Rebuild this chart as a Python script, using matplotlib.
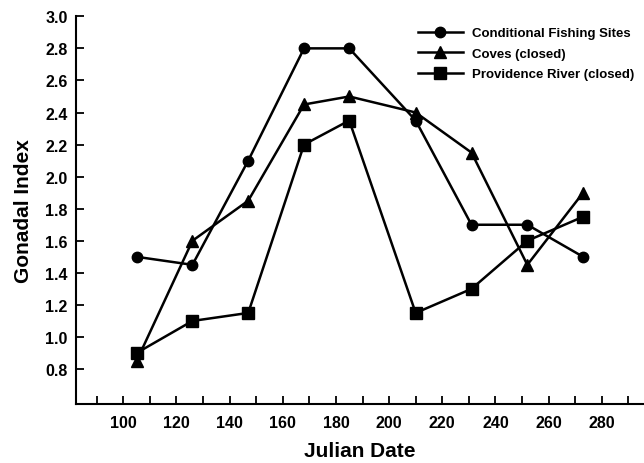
import matplotlib
matplotlib.use("Agg")
import matplotlib.pyplot as plt

plt.rcParams["font.family"] = ["Liberation Sans", "DejaVu Sans"]
plt.rcParams["font.weight"] = "bold"

# данные
julian_date = [105, 126, 147, 168, 185, 210, 231, 252, 273]
conditional_sites = [1.50, 1.45, 2.10, 2.80, 2.80, 2.35, 1.70, 1.70, 1.50]
coves_closed = [0.85, 1.60, 1.85, 2.45, 2.50, 2.40, 2.15, 1.45, 1.90]
providence_closed = [0.90, 1.10, 1.15, 2.20, 2.35, 1.15, 1.30, 1.60, 1.75]

series_labels = ["Conditional Fishing Sites", "Coves (closed)", "Providence River (closed)"]
x_ticks = list(range(90, 300, 10))
x_tick_labels = [str(v) if v % 20 == 0 and 100 <= v <= 280 else "" for v in x_ticks]
y_ticks = [0.8, 1.0, 1.2, 1.4, 1.6, 1.8, 2.0, 2.2, 2.4, 2.6, 2.8, 3.0]

fig = plt.figure(figsize=(6.44, 4.64), dpi=100)
ax = fig.add_axes([76 / 644, 1 - 405 / 464, 1 - 76 / 644, (405 - 17.3) / 464])

styles = [("o", 7.5), ("^", 8.2), ("s", 8)]
for values, label, (marker, ms) in zip(
        [conditional_sites, coves_closed, providence_closed], series_labels, styles):
    ax.plot(julian_date, values, color="black", linewidth=1.8,
            marker=marker, markersize=ms, label=label, clip_on=False)

ax.set_xlim(82.2, 295.9)
ax.set_ylim(0.582, 3.0)
ax.set_xticks(x_ticks)
ax.set_xticklabels(x_tick_labels)
ax.set_yticks(y_ticks)
ax.set_yticklabels([f"{v:.1f}" for v in y_ticks])

for side in ["top", "right"]:
    ax.spines[side].set_visible(False)
for side in ["left", "bottom"]:
    ax.spines[side].set_linewidth(1.5)

ax.tick_params(axis="both", direction="in", width=1.3, labelsize=11.5, colors="black")
ax.tick_params(axis="x", length=6, pad=8)
ax.tick_params(axis="y", length=5.5, pad=6)

ax.set_xlabel("Julian Date", fontsize=15, fontweight="bold", labelpad=8)
ax.set_ylabel("Gonadal Index", fontsize=15, fontweight="bold")
ax.yaxis.set_label_coords((33 - 76) / 568, 0.5)

ax.legend(loc="upper left", bbox_to_anchor=((418 - 76) / 568, 0.972),
          frameon=False, handlelength=3.4, handletextpad=0.7,
          labelspacing=0.62, borderpad=0, borderaxespad=0,
          prop={"weight": "bold", "size": 9.5})

fig.savefig("out.png", dpi=100)
